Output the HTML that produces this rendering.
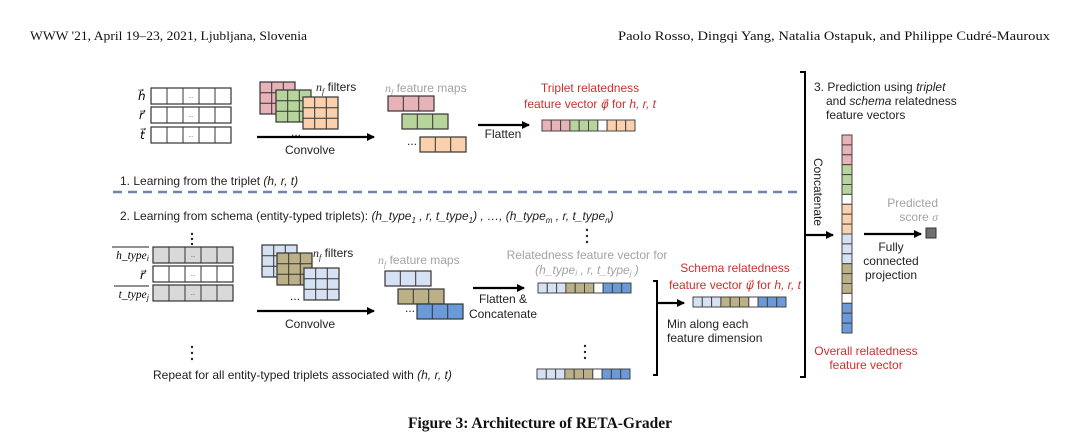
<!DOCTYPE html>
<html><head><meta charset="utf-8"><style>
html,body{margin:0;padding:0;background:#fff;}
svg{display:block}
.s{font-family:"Liberation Sans",sans-serif;font-size:12px;fill:#222}
.g{fill:#a3a3a3}
.r{fill:#cf2f2f}
.i{font-style:italic}
</style></head><body>
<svg width="1080" height="448" viewBox="0 0 1080 448" xmlns="http://www.w3.org/2000/svg">
<defs>
<marker id="ah" markerWidth="8" markerHeight="8" refX="7" refY="4" orient="auto" markerUnits="userSpaceOnUse"><path d="M0,0 L8,4 L0,8 Z" fill="#000"/></marker>
<g id="f3"><rect x="0" y="0" width="35" height="32" stroke="#333" stroke-width="1.2"/><path d="M11.7,0V32M23.3,0V32M0,10.7H35M0,21.3H35" stroke="#333" stroke-width="1"/></g>
<g id="m3"><rect x="0" y="0" width="46" height="15" stroke="#333" stroke-width="1.2"/><path d="M15.3,0V15M30.7,0V15" stroke="#333"/></g>
<g id="row5"><rect x="0" y="0" width="80" height="16" stroke="#333" stroke-width="1.2"/><path d="M16,0V16M32,0V16M48,0V16M64,0V16" stroke="#333"/><text x="40" y="10" font-size="6" text-anchor="middle" fill="#555" font-family="Liberation Sans">...</text></g>
</defs>

<text x="30" y="40" font-family="Liberation Serif" font-size="13" textLength="277" lengthAdjust="spacingAndGlyphs" fill="#111">WWW '21, April 19–23, 2021, Ljubljana, Slovenia</text>
<text x="618" y="40" font-family="Liberation Serif" font-size="13" textLength="432" lengthAdjust="spacingAndGlyphs" fill="#111">Paolo Rosso, Dingqi Yang, Natalia Ostapuk, and Philippe Cudré-Mauroux</text>

<text x="138" y="100" font-family="Liberation Serif" font-style="italic" font-size="12">h⃗</text>
<text x="139" y="119" font-family="Liberation Serif" font-style="italic" font-size="12">r⃗</text>
<text x="140" y="139" font-family="Liberation Serif" font-style="italic" font-size="12">t⃗</text>
<use href="#row5" x="151" y="88" fill="#fff"/>
<use href="#row5" x="151" y="107" fill="#fff"/>
<use href="#row5" x="151" y="127" fill="#fff"/>

<use href="#f3" x="260" y="82" fill="#e8b3b8"/>
<use href="#f3" x="276" y="90" fill="#b6d49c"/>
<use href="#f3" x="303" y="97" fill="#fbd0ad"/>
<text x="316" y="91" class="s"><tspan font-family="Liberation Serif" font-style="italic">n<tspan font-size="8" dy="3">f</tspan></tspan><tspan dy="-3"> filters</tspan></text>
<text x="291" y="136" class="s">...</text>
<line x1="257" y1="137" x2="374" y2="137" stroke="#000" stroke-width="2.2" marker-end="url(#ah)"/>
<text x="310" y="154" class="s" text-anchor="middle">Convolve</text>

<text x="385" y="92" class="s g"><tspan font-family="Liberation Serif" font-style="italic">n<tspan font-size="8" dy="3">f</tspan></tspan><tspan dy="-3"> feature maps</tspan></text>
<use href="#m3" x="388" y="96" fill="#e8b3b8"/>
<use href="#m3" x="402" y="114" fill="#b6d49c"/>
<use href="#m3" x="420" y="137" fill="#fbd0ad"/>
<text x="407" y="145" class="s">...</text>
<line x1="478" y1="125" x2="529" y2="125" stroke="#000" stroke-width="2.2" marker-end="url(#ah)"/>
<text x="503" y="138" class="s" text-anchor="middle">Flatten</text>

<text x="590" y="92" class="s r" text-anchor="middle">Triplet relatedness</text>
<text x="590" y="108" class="s r" text-anchor="middle">feature vector <tspan font-family="Liberation Serif" font-style="italic">φ⃗</tspan> for <tspan class="i">h, r, t</tspan></text>
<g stroke="#444" stroke-width="1">
<rect x="542" y="120" width="9.3" height="11" fill="#e8b3b8"/><rect x="551.3" y="120" width="9.3" height="11" fill="#e8b3b8"/><rect x="560.6" y="120" width="9.3" height="11" fill="#e8b3b8"/>
<rect x="569.9" y="120" width="9.3" height="11" fill="#b6d49c"/><rect x="579.2" y="120" width="9.3" height="11" fill="#b6d49c"/><rect x="588.5" y="120" width="9.3" height="11" fill="#b6d49c"/>
<rect x="597.8" y="120" width="9.3" height="11" fill="#fff"/>
<rect x="607.1" y="120" width="9.3" height="11" fill="#fbd0ad"/><rect x="616.4" y="120" width="9.3" height="11" fill="#fbd0ad"/><rect x="625.7" y="120" width="9.3" height="11" fill="#fbd0ad"/>
</g>

<text x="120" y="185" class="s">1. Learning from the triplet <tspan class="i">(h, r, t)</tspan></text>
<line x1="113" y1="192" x2="803" y2="192" stroke="#6a87b0" stroke-width="2.5" stroke-dasharray="9,6"/>

<text x="120" y="220" class="s">2. Learning from schema (entity-typed triplets): <tspan class="i">(h_type<tspan font-size="8" dy="3">1</tspan><tspan dy="-3"> , r, t_type</tspan><tspan font-size="8" dy="3">1</tspan><tspan dy="-3">) ,  …,  (h_type</tspan><tspan font-size="8" dy="3">m</tspan><tspan dy="-3"> , r,  t_type</tspan><tspan font-size="8" dy="3">n</tspan><tspan dy="-3">)</tspan></tspan></text>

<g fill="#222"><circle cx="192" cy="234" r="1.2"/><circle cx="192" cy="239" r="1.2"/><circle cx="192" cy="244" r="1.2"/></g>
<text x="149" y="259" font-family="Liberation Serif" font-style="italic" font-size="11.5" text-anchor="end">h_type<tspan font-size="8" dy="2">i</tspan></text>
<line x1="112" y1="247" x2="149" y2="247" stroke="#222"/>
<text x="140" y="279" font-family="Liberation Serif" font-style="italic" font-size="12">r⃗</text>
<text x="149" y="298" font-family="Liberation Serif" font-style="italic" font-size="11.5" text-anchor="end">t_type<tspan font-size="8" dy="2">j</tspan></text>
<line x1="114" y1="286" x2="149" y2="286" stroke="#222"/>
<use href="#row5" x="153" y="247" fill="#d9d9d9"/>
<use href="#row5" x="153" y="266" fill="#fff"/>
<use href="#row5" x="153" y="285" fill="#d9d9d9"/>

<use href="#f3" x="262" y="245" fill="#d6e2f3"/>
<use href="#f3" x="277" y="253" fill="#bcb087"/>
<use href="#f3" x="304" y="268" fill="#d6e2f3"/>
<text x="313" y="257" class="s"><tspan font-family="Liberation Serif" font-style="italic">n<tspan font-size="8" dy="3">f</tspan></tspan><tspan dy="-3"> filters</tspan></text>
<text x="290" y="300" class="s">...</text>
<line x1="257" y1="311" x2="374" y2="311" stroke="#000" stroke-width="2.2" marker-end="url(#ah)"/>
<text x="310" y="328" class="s" text-anchor="middle">Convolve</text>

<text x="378" y="264" class="s g"><tspan font-family="Liberation Serif" font-style="italic">n<tspan font-size="8" dy="3">f</tspan></tspan><tspan dy="-3"> feature maps</tspan></text>
<use href="#m3" x="385" y="271" fill="#d6e2f3"/>
<use href="#m3" x="398" y="289" fill="#bcb087"/>
<use href="#m3" x="417" y="304" fill="#6a9ad8"/>
<text x="405" y="312" class="s">...</text>
<line x1="473" y1="288" x2="524" y2="288" stroke="#000" stroke-width="2.2" marker-end="url(#ah)"/>
<text x="503" y="303" class="s" text-anchor="middle">Flatten &amp;</text>
<text x="503" y="318" class="s" text-anchor="middle">Concatenate</text>

<g fill="#222"><circle cx="587" cy="230" r="1.2"/><circle cx="587" cy="236" r="1.2"/><circle cx="587" cy="242" r="1.2"/></g>
<text x="587" y="259" class="s g" text-anchor="middle">Relatedness feature vector for</text>
<text x="587" y="274" class="s g i" text-anchor="middle">(h_type<tspan font-size="8" dy="2">i</tspan><tspan dy="-2"> , r, t_type</tspan><tspan font-size="8" dy="2">j</tspan><tspan dy="-2"> )</tspan></text>

<g id="sv" stroke="#444" stroke-width="1">
<rect x="538" y="283" width="9.3" height="10" fill="#d6e2f3"/><rect x="547.3" y="283" width="9.3" height="10" fill="#d6e2f3"/><rect x="556.6" y="283" width="9.3" height="10" fill="#d6e2f3"/>
<rect x="565.9" y="283" width="9.3" height="10" fill="#bcb087"/><rect x="575.2" y="283" width="9.3" height="10" fill="#bcb087"/><rect x="584.5" y="283" width="9.3" height="10" fill="#bcb087"/>
<rect x="593.8" y="283" width="9.3" height="10" fill="#fff"/>
<rect x="603.1" y="283" width="9.3" height="10" fill="#6a9ad8"/><rect x="612.4" y="283" width="9.3" height="10" fill="#6a9ad8"/><rect x="621.7" y="283" width="9.3" height="10" fill="#6a9ad8"/>
</g>
<use href="#sv" x="-1" y="86"/>
<use href="#sv" x="155" y="14"/>

<g fill="#222"><circle cx="192" cy="347" r="1.2"/><circle cx="192" cy="353" r="1.2"/><circle cx="192" cy="359" r="1.2"/></g>
<g fill="#222"><circle cx="585" cy="346" r="1.2"/><circle cx="585" cy="352" r="1.2"/><circle cx="585" cy="358" r="1.2"/></g>
<text x="153" y="379" class="s">Repeat for all entity-typed triplets associated with <tspan class="i">(h, r, t)</tspan></text>

<path d="M653,281 H657 V375 H653" fill="none" stroke="#000" stroke-width="2"/>
<line x1="657" y1="303" x2="684" y2="303" stroke="#000" stroke-width="2.2" marker-end="url(#ah)"/>
<text x="735" y="272" class="s r" text-anchor="middle">Schema relatedness</text>
<text x="735" y="289" class="s r" text-anchor="middle">feature vector <tspan font-family="Liberation Serif" font-style="italic">ψ⃗</tspan> for <tspan class="i">h, r, t</tspan></text>
<text x="667" y="328" class="s">Min along each</text>
<text x="667" y="342" class="s">feature dimension</text>

<path d="M800,72 H805 V377 H800" fill="none" stroke="#000" stroke-width="2"/>
<text x="814" y="91" class="s">3. Prediction using <tspan class="i">triplet</tspan></text>
<text x="826" y="105" class="s">and <tspan class="i">schema</tspan> relatedness</text>
<text x="826" y="119" class="s">feature vectors</text>
<text transform="translate(814,192) rotate(90)" class="s" text-anchor="middle" font-size="12">Concatenate</text>
<line x1="805" y1="235" x2="833" y2="235" stroke="#000" stroke-width="2.2" marker-end="url(#ah)"/>

<g stroke="#444" stroke-width="1">
<rect x="842" y="135" width="10" height="9.9" fill="#e8b3b8"/><rect x="842" y="144.9" width="10" height="9.9" fill="#e8b3b8"/><rect x="842" y="154.8" width="10" height="9.9" fill="#e8b3b8"/>
<rect x="842" y="164.7" width="10" height="9.9" fill="#b6d49c"/><rect x="842" y="174.6" width="10" height="9.9" fill="#b6d49c"/><rect x="842" y="184.5" width="10" height="9.9" fill="#b6d49c"/>
<rect x="842" y="194.4" width="10" height="9.9" fill="#fff"/>
<rect x="842" y="204.3" width="10" height="9.9" fill="#fbd0ad"/><rect x="842" y="214.2" width="10" height="9.9" fill="#fbd0ad"/><rect x="842" y="224.1" width="10" height="9.9" fill="#fbd0ad"/>
<rect x="842" y="234" width="10" height="9.9" fill="#d6e2f3"/><rect x="842" y="243.9" width="10" height="9.9" fill="#d6e2f3"/><rect x="842" y="253.8" width="10" height="9.9" fill="#d6e2f3"/>
<rect x="842" y="263.7" width="10" height="9.9" fill="#bcb087"/><rect x="842" y="273.6" width="10" height="9.9" fill="#bcb087"/><rect x="842" y="283.5" width="10" height="9.9" fill="#bcb087"/>
<rect x="842" y="293.4" width="10" height="9.9" fill="#fff"/>
<rect x="842" y="303.3" width="10" height="9.9" fill="#6a9ad8"/><rect x="842" y="313.2" width="10" height="9.9" fill="#6a9ad8"/><rect x="842" y="323.1" width="10" height="9.9" fill="#6a9ad8"/>
</g>

<line x1="864" y1="234" x2="921" y2="234" stroke="#000" stroke-width="2.2" marker-end="url(#ah)"/>
<rect x="926" y="228" width="10" height="10" fill="#707070" stroke="#333"/>
<text x="938" y="207" class="s g" text-anchor="end">Predicted</text>
<text x="938" y="221" class="s g" text-anchor="end">score <tspan font-family="Liberation Serif" font-style="italic">σ</tspan></text>
<text x="891" y="251" class="s" text-anchor="middle">Fully</text>
<text x="891" y="265" class="s" text-anchor="middle">connected</text>
<text x="891" y="279" class="s" text-anchor="middle">projection</text>
<text x="866" y="355" class="s r" text-anchor="middle">Overall relatedness</text>
<text x="866" y="369" class="s r" text-anchor="middle">feature vector</text>

<text x="540" y="428" font-family="Liberation Serif" font-weight="bold" font-size="15.5" text-anchor="middle" fill="#111">Figure 3: Architecture of RETA-Grader</text>
</svg>
</body></html>
